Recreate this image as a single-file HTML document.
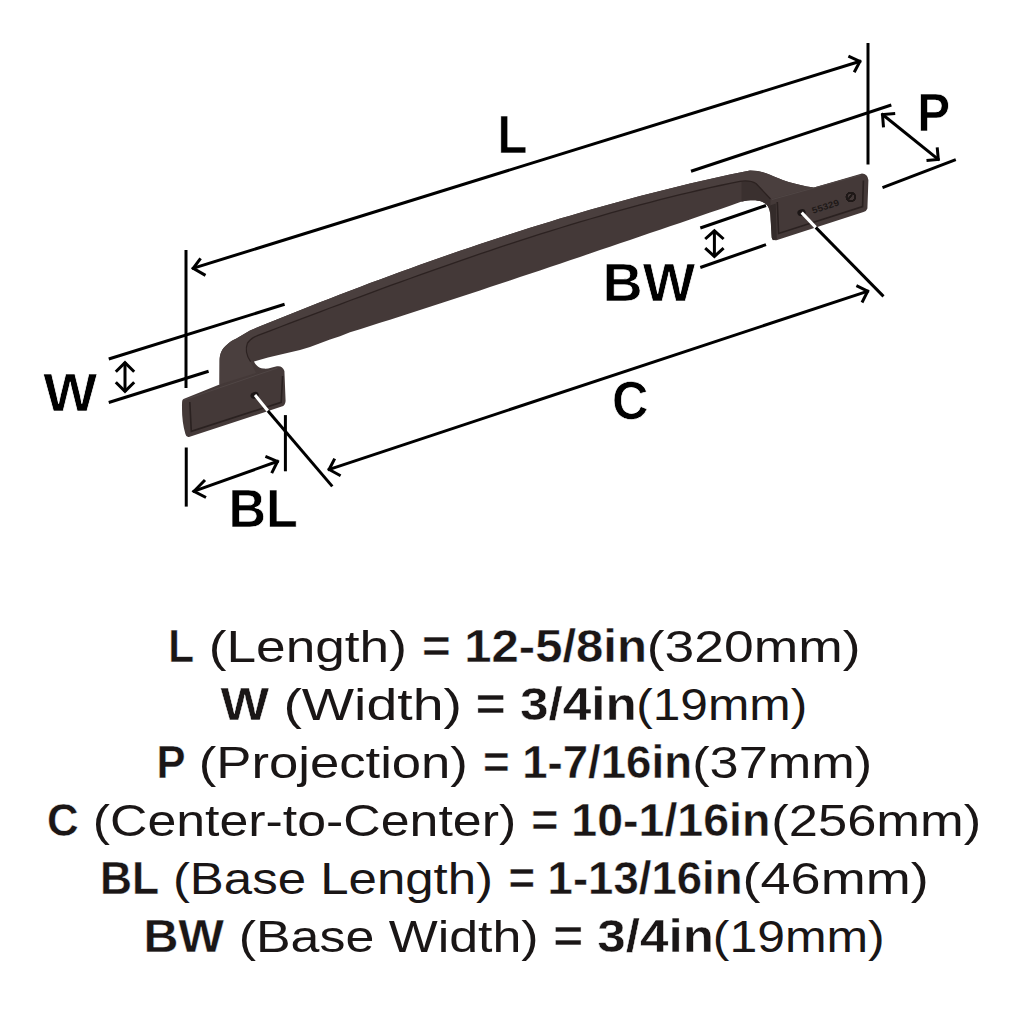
<!DOCTYPE html>
<html><head><meta charset="utf-8">
<style>
html,body{margin:0;padding:0;background:#fff;}
svg{display:block;}
text{font-family:"Liberation Sans",sans-serif;}
</style></head><body>
<svg width="1024" height="1024" viewBox="0 0 1024 1024">
<rect width="1024" height="1024" fill="#fff"/>

<!-- HANDLE -->
<g id="handle">
<path fill="#443938" d="M183.5,399 L219.5,384.5 L219.6,360.2 C219.8,354 221.5,349 227.2,344.5 C230,342 232,340.5 236,338.8 L250.0,330.4 260.0,326.3 270.0,322.2 280.0,318.2 290.0,314.2 300.0,310.2 310.0,306.2 320.0,302.3 330.0,298.4 340.0,294.5 350.0,290.7 360.0,286.9 370.0,283.1 380.0,279.4 390.0,275.7 400.0,272.0 410.0,268.4 420.0,264.8 430.0,261.3 440.0,257.7 450.0,254.3 460.0,250.8 470.0,247.4 480.0,244.0 490.0,240.7 500.0,237.4 510.0,234.2 520.0,231.0 530.0,227.8 540.0,224.7 550.0,221.7 560.0,218.6 570.0,215.7 580.0,212.7 590.0,209.8 600.0,207.0 610.0,204.2 620.0,201.5 630.0,198.8 640.0,196.1 650.0,193.5 660.0,191.0 670.0,188.5 680.0,186.0 690.0,183.6 700.0,181.3 710.0,179.0 720.0,176.8 730.0,174.6 740.0,172.5 750.0,170.4 C758,170.5 764,172 770,174.8 C780,179.5 795,185 813.9,187.5 L862,173.5 Q867.5,173.6 868.4,180 L867.4,208.5 Q866.5,211.3 863.5,212 L776.4,240.3 Q772.2,240.8 771.7,237.3 L770.2,214 C769.8,208.5 767.5,203.8 762,201.7 C757,200 751,199.6 741,201.8 L730.0,205.8 720.0,209.2 710.0,212.6 700.0,216.0 690.0,219.5 680.0,222.9 670.0,226.3 660.0,229.7 650.0,233.1 640.0,236.5 630.0,239.9 620.0,243.3 610.0,246.7 600.0,250.1 590.0,253.5 580.0,256.9 570.0,260.3 560.0,263.7 550.0,267.0 540.0,270.4 530.0,273.7 520.0,277.1 510.0,280.4 500.0,283.8 490.0,287.1 480.0,290.4 470.0,293.7 460.0,297.0 450.0,300.3 440.0,303.5 430.0,306.8 420.0,310.0 410.0,313.2 400.0,316.5 390.0,319.7 380.0,322.8 370.0,326.0 360.0,329.2 350.0,332.3 L340,336.3 L330,339.6 L320,343.2 L310,347 L300,350 L285,353.4 L268,357.5 L254,361.6 C255.5,365 258.5,368 263.1,368.6 C268,369.3 272,367.5 277,366.3 Q282.5,365.5 284.4,371 L285.6,401 Q285.2,405.8 281.7,406.6 L189,436.9 Q186.3,437.6 185.4,434 Q181.3,420 182.1,401.8 Q182.2,399.6 183.5,399 Z"/>
<path fill="#4a3f3e" d="M219.5,384.5 L219.6,360.2 C219.8,354 221.5,349 227.2,344.5 C230,342 232,340.5 236,338.8 L250.0,330.4 260.0,326.3 270.0,322.2 280.0,318.2 290.0,314.2 300.0,310.2 310.0,306.2 320.0,302.3 330.0,298.4 340.0,294.5 350.0,290.7 360.0,286.9 370.0,283.1 380.0,279.4 390.0,275.7 400.0,272.0 410.0,268.4 420.0,264.8 430.0,261.3 440.0,257.7 450.0,254.3 460.0,250.8 470.0,247.4 480.0,244.0 490.0,240.7 500.0,237.4 510.0,234.2 520.0,231.0 530.0,227.8 540.0,224.7 550.0,221.7 560.0,218.6 570.0,215.7 580.0,212.7 590.0,209.8 600.0,207.0 610.0,204.2 620.0,201.5 630.0,198.8 640.0,196.1 650.0,193.5 660.0,191.0 670.0,188.5 680.0,186.0 690.0,183.6 700.0,181.3 710.0,179.0 720.0,176.8 730.0,174.6 740.0,172.5 750.0,170.4 C758,170.5 764,172 770,174.8 C780,179.5 795,185 813.9,187.5 L771,199 L756,183.5 C752,181 748,180.2 741.5,181.6 L740.0,181.3 730.0,183.4 720.0,185.5 710.0,187.7 700.0,190.0 690.0,192.3 680.0,194.7 670.0,197.2 660.0,199.7 650.0,202.3 640.0,204.9 630.0,207.6 620.0,210.4 610.0,213.2 600.0,216.1 590.0,219.0 580.0,221.9 570.0,224.9 560.0,228.0 550.0,231.1 540.0,234.2 530.0,237.4 520.0,240.6 510.0,243.9 500.0,247.2 490.0,250.6 480.0,253.9 470.0,257.4 460.0,260.8 450.0,264.3 440.0,267.8 430.0,271.3 420.0,274.9 410.0,278.5 400.0,282.1 390.0,285.7 380.0,289.4 370.0,293.1 360.0,296.8 350.0,300.5 340.0,304.3 330.0,308.0 320.0,311.8 310.0,315.6 300.0,319.4 290.0,323.2 280.0,327.0 270.0,330.8 L258.0,335.4 C253,337.6 251,338.5 247.5,343 C245.5,348 246,355 250.6,361.7 L256,373 Z"/>
<path fill="#3a302f" d="M741.5,181.6 C748,180.2 752,181 756,183.5 L770.5,199 L770.2,214 C769.8,208.5 767.5,203.8 762,201.7 C757,200 751,199.6 741.5,201.7 Z"/>
<path fill="none" stroke="#2c2221" stroke-width="1.3" d="M247.5,343 C251,338.5 253,337.6 258.0,335.4 L270.0,330.8 280.0,327.0 290.0,323.2 300.0,319.4 310.0,315.6 320.0,311.8 330.0,308.0 340.0,304.3 350.0,300.5 360.0,296.8 370.0,293.1 380.0,289.4 390.0,285.7 400.0,282.1 410.0,278.5 420.0,274.9 430.0,271.3 440.0,267.8 450.0,264.3 460.0,260.8 470.0,257.4 480.0,253.9 490.0,250.6 500.0,247.2 510.0,243.9 520.0,240.6 530.0,237.4 540.0,234.2 550.0,231.1 560.0,228.0 570.0,224.9 580.0,221.9 590.0,219.0 600.0,216.1 610.0,213.2 620.0,210.4 630.0,207.6 640.0,204.9 650.0,202.3 660.0,199.7 670.0,197.2 680.0,194.7 690.0,192.3 700.0,190.0 710.0,187.7 720.0,185.5 730.0,183.4 740.0,181.3 C748,180.2 752,181 756,183.5 L770.5,199"/>
<path fill="none" stroke="#2c2221" stroke-width="1.2" d="M247.5,343 C245.5,348 246,355 250.6,361.7"/>
<!-- left foot rim -->
<path fill="none" stroke="#2a2120" stroke-width="1.6" d="M189.8,402 L191.3,431.3 L281.2,402.3 L282.6,376"/>
<path fill="none" stroke="#504645" stroke-width="1" d="M184,400 L277.5,368"/>
<path fill="#342b2a" d="M770,205.5 L775.8,203.5 L776.8,239 L773,240.2 Q771.9,239.5 771.7,237.3 Z"/>
<!-- right foot rim -->
<path fill="none" stroke="#2a2120" stroke-width="1.6" d="M777.3,202 L778.6,233.4 L862.6,206.6 L863.4,180.5"/>
<path fill="none" stroke="#504645" stroke-width="1" d="M772,199.5 L861,175"/>
<!-- holes -->
<ellipse cx="254.6" cy="395.3" rx="4.2" ry="3.3" fill="#1c1616" transform="rotate(-20 254.6 395.3)"/>
<ellipse cx="801.5" cy="212.6" rx="4.2" ry="3.3" fill="#1c1616" transform="rotate(-20 801.5 212.6)"/>
<!-- engraving -->
<g transform="translate(825.5,206.5) rotate(-18)"><text x="0" y="3.5" text-anchor="middle" font-family="Liberation Sans" font-size="10.5" font-weight="bold" fill="#1f1918" transform="scale(1,0.85)" textLength="28" lengthAdjust="spacingAndGlyphs">55329</text></g>
<circle cx="850.8" cy="197" r="4.3" fill="none" stroke="#1f1918" stroke-width="1.3"/>
<path d="M848.5,199 L852,194.5" stroke="#1f1918" stroke-width="1.2"/>
</g>
<circle cx="850.8" cy="197" r="4.3" fill="none" stroke="#1f1918" stroke-width="1.3"/>
<path d="M848.5,199 L852,194.5" stroke="#1f1918" stroke-width="1.2"/>
</g>
<circle cx="850.8" cy="197" r="4.3" fill="none" stroke="#1f1918" stroke-width="1.3"/>
<path d="M848.5,199 L852,194.5" stroke="#1f1918" stroke-width="1.2"/>
</g>
<circle cx="850.8" cy="197" r="4.3" fill="none" stroke="#1f1918" stroke-width="1.3"/>
<path d="M848.5,199 L852,194.5" stroke="#1f1918" stroke-width="1.2"/>
</g>
<circle cx="850.8" cy="197" r="4.3" fill="none" stroke="#1f1918" stroke-width="1.3"/>
<path d="M848.5,199 L852,194.5" stroke="#1f1918" stroke-width="1.2"/>
</g>
<circle cx="850.8" cy="197" r="4.3" fill="none" stroke="#1f1918" stroke-width="1.3"/>
<path d="M848.5,199 L852,194.5" stroke="#1f1918" stroke-width="1.2"/>
</g>
<circle cx="850.8" cy="197" r="4.3" fill="none" stroke="#1f1918" stroke-width="1.3"/>
<path d="M848.5,199 L852,194.5" stroke="#1f1918" stroke-width="1.2"/>
</g>
<circle cx="850.8" cy="197" r="4.3" fill="none" stroke="#1f1918" stroke-width="1.3"/>
<path d="M848.5,199 L852,194.5" stroke="#1f1918" stroke-width="1.2"/>
</g>

<!-- DIMENSION LINES -->
<g stroke="#000" stroke-width="3" fill="none" stroke-linecap="butt">
  <!-- L -->
  <line x1="186" y1="250" x2="186" y2="388"/>
  <line x1="868" y1="43" x2="868" y2="164.5"/>
  <line x1="192" y1="268.6" x2="861" y2="61"/>
  <polyline points="200.6,258.4 193.2,268.4 205.5,275.4"/>
  <polyline points="848.4,56.1 859.9,61.4 854.2,72.3"/>
  <!-- W -->
  <line x1="108.75" y1="359" x2="284.6" y2="304.3"/>
  <line x1="108.75" y1="402.5" x2="208.6" y2="371.2"/>
  <line x1="125" y1="362" x2="125" y2="392"/>
  <polyline points="115.8,371.8 125.0,362.6 134.2,371.8"/>
  <polyline points="115.8,382.2 125.0,391.4 134.2,382.2"/>
  <!-- P -->
  <line x1="691" y1="171.25" x2="891.3" y2="105"/>
  <line x1="882.5" y1="187.6" x2="955.8" y2="159.6"/>
  <line x1="881.6" y1="113.75" x2="939.2" y2="160.2"/>
  <polyline points="895.2,113.4 882.5,114.5 883.5,127.4"/>
  <polyline points="926.5,160.6 938.3,159.4 937.2,147.3"/>
  <!-- C -->
  <line x1="327.9" y1="469.8" x2="868.8" y2="290.8"/>
  <polyline points="334.7,458.6 329.1,469.5 340.6,475.7"/>
  <polyline points="856.4,285.7 867.7,291.2 862.0,302.5"/>
  <line x1="267.8" y1="410.7" x2="332.3" y2="486.4"/>
  <line x1="815.7" y1="227.4" x2="883.5" y2="296.4"/>
  <!-- BL -->
  <line x1="186.25" y1="447.5" x2="186.25" y2="506.6"/>
  <line x1="285.4" y1="415.1" x2="285.4" y2="471.3"/>
  <line x1="192.8" y1="491.6" x2="278.6" y2="461"/>
  <polyline points="205.0,480.0 194.0,491.3 206.0,497.5"/>
  <polyline points="265.4,456.4 277.5,461.4 271.7,473.2"/>
  <!-- BW -->
  <line x1="700.3" y1="228" x2="766" y2="205.5"/>
  <line x1="700.3" y1="267.5" x2="766" y2="244.6"/>
  <line x1="714.4" y1="230" x2="714.4" y2="257"/>
  <polyline points="705.2,239.0 714.4,230.8 723.6,239.0"/>
  <polyline points="705.2,248.2 714.4,256.4 723.6,248.2"/>
</g>
<!-- white center line segments inside feet -->
<g stroke="#fff" stroke-width="3">
  <line x1="255" y1="395" x2="267.8" y2="410.7"/>
  <line x1="801.7" y1="212.6" x2="815.7" y2="227.4"/>
</g>

<!-- LABELS -->
<g font-weight="bold" font-size="53" fill="#000" stroke="#fff" stroke-width="0.7">
  <text x="497.4" y="152.8" textLength="29.9" lengthAdjust="spacingAndGlyphs">L</text>
  <text x="43.3" y="411.2" textLength="53.9" lengthAdjust="spacingAndGlyphs">W</text>
  <text x="917.3" y="130.7" textLength="32.9" lengthAdjust="spacingAndGlyphs">P</text>
  <text x="612.1" y="418.8" textLength="36.5" lengthAdjust="spacingAndGlyphs">C</text>
  <text x="228.4" y="527.0" textLength="69.4" lengthAdjust="spacingAndGlyphs">BL</text>
  <text x="602.6" y="300.6" textLength="92.6" lengthAdjust="spacingAndGlyphs">BW</text>
</g>

<!-- SPEC TEXT -->
<g font-size="45" fill="#1a1616">
  <text x="168.3" y="662" font-weight="bold" font-size="46.0" stroke="#fff" stroke-width="0.4" textLength="25.8" lengthAdjust="spacingAndGlyphs">L</text>
  <text x="208.8" y="662"  textLength="198.1" lengthAdjust="spacingAndGlyphs">(Length)</text>
  <text x="421.9" y="662" font-weight="bold" font-size="46.0" stroke="#fff" stroke-width="0.4" textLength="225.1" lengthAdjust="spacingAndGlyphs">= 12-5/8in</text>
  <text x="646.8" y="662"  textLength="213.7" lengthAdjust="spacingAndGlyphs">(320mm)</text>
  <text x="220.5" y="720" font-weight="bold" font-size="46.0" stroke="#fff" stroke-width="0.4" textLength="48.6" lengthAdjust="spacingAndGlyphs">W</text>
  <text x="283.4" y="720"  textLength="178.5" lengthAdjust="spacingAndGlyphs">(Width)</text>
  <text x="475.8" y="720" font-weight="bold" font-size="46.0" stroke="#fff" stroke-width="0.4" textLength="161.1" lengthAdjust="spacingAndGlyphs">= 3/4in</text>
  <text x="636.2" y="720"  textLength="171.0" lengthAdjust="spacingAndGlyphs">(19mm)</text>
  <text x="156.4" y="778" font-weight="bold" font-size="46.0" stroke="#fff" stroke-width="0.4" textLength="29.0" lengthAdjust="spacingAndGlyphs">P</text>
  <text x="198.8" y="778"  textLength="269.1" lengthAdjust="spacingAndGlyphs">(Projection)</text>
  <text x="482.9" y="778" font-weight="bold" font-size="46.0" stroke="#fff" stroke-width="0.4" textLength="209.1" lengthAdjust="spacingAndGlyphs">= 1-7/16in</text>
  <text x="692.2" y="778"  textLength="180.0" lengthAdjust="spacingAndGlyphs">(37mm)</text>
  <text x="46.9" y="836" font-weight="bold" font-size="46.0" stroke="#fff" stroke-width="0.4" textLength="31.6" lengthAdjust="spacingAndGlyphs">C</text>
  <text x="92.7" y="836"  textLength="423.5" lengthAdjust="spacingAndGlyphs">(Center-to-Center)</text>
  <text x="531.2" y="836" font-weight="bold" font-size="46.0" stroke="#fff" stroke-width="0.4" textLength="239.2" lengthAdjust="spacingAndGlyphs">= 10-1/16in</text>
  <text x="771.3" y="836"  textLength="209.9" lengthAdjust="spacingAndGlyphs">(256mm)</text>
  <text x="100.0" y="894" font-weight="bold" font-size="46.0" stroke="#fff" stroke-width="0.4" textLength="59.1" lengthAdjust="spacingAndGlyphs">BL</text>
  <text x="172.9" y="894"  textLength="320.2" lengthAdjust="spacingAndGlyphs">(Base Length)</text>
  <text x="508.4" y="894" font-weight="bold" font-size="46.0" stroke="#fff" stroke-width="0.4" textLength="234.1" lengthAdjust="spacingAndGlyphs">= 1-13/16in</text>
  <text x="742.5" y="894"  textLength="186.2" lengthAdjust="spacingAndGlyphs">(46mm)</text>
  <text x="143.4" y="952" font-weight="bold" font-size="46.0" stroke="#fff" stroke-width="0.4" textLength="80.7" lengthAdjust="spacingAndGlyphs">BW</text>
  <text x="238.7" y="952"  textLength="299.9" lengthAdjust="spacingAndGlyphs">(Base Width)</text>
  <text x="553.2" y="952" font-weight="bold" font-size="46.0" stroke="#fff" stroke-width="0.4" textLength="160.7" lengthAdjust="spacingAndGlyphs">= 3/4in</text>
  <text x="712.8" y="952"  textLength="171.9" lengthAdjust="spacingAndGlyphs">(19mm)</text>
</g>
</svg>
</body></html>
